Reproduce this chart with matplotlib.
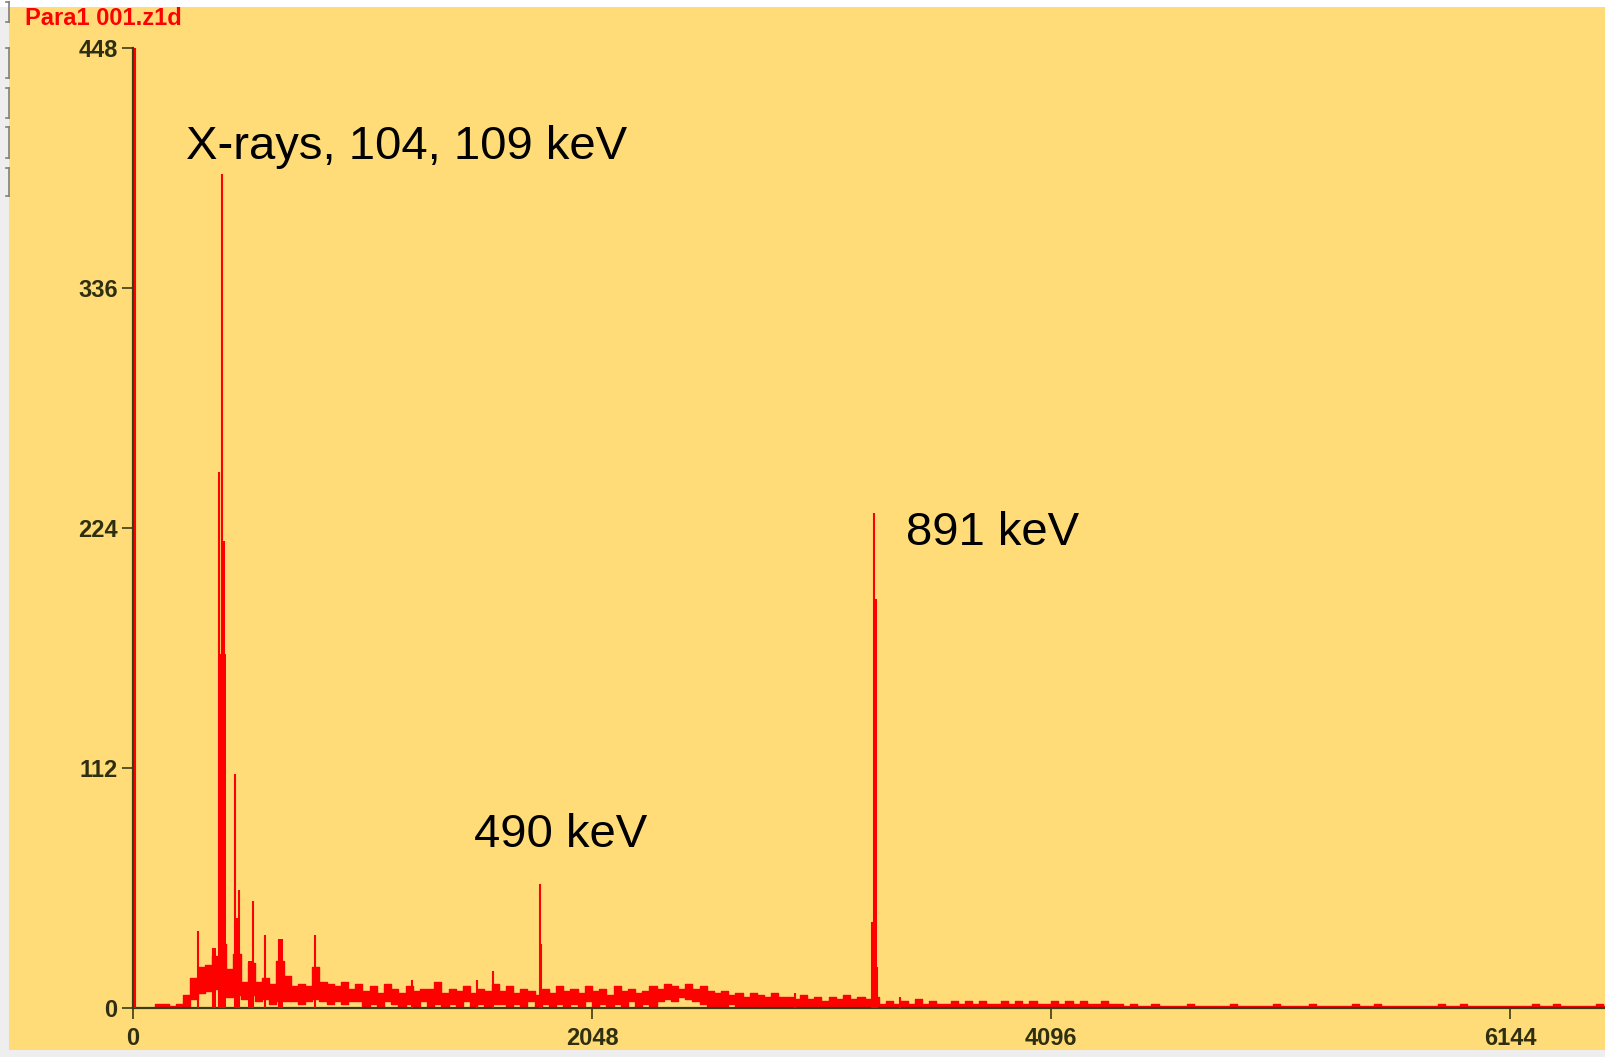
import matplotlib
matplotlib.use("Agg")
import matplotlib.pyplot as plt
import numpy as np
from matplotlib.patches import Rectangle
from matplotlib.lines import Line2D

# ---------------- data ----------------
title_text = "Para1 001.z1d"
x_ticks = [0, 2048, 4096, 6144]
y_ticks = [0, 112, 224, 336, 448]

bin_width = 32  # channels per background bin
# upper / lower envelope of the noisy background, per 32-channel bin
bg_hi = [0, 0, 0, 2, 2, 1, 2,
         6, 14, 19, 20, 24,
         30,
         18, 25, 12, 21, 12, 14, 11, 22,
         15, 10, 11, 10, 19, 12, 11, 10, 12, 9,
         11, 8, 10, 7, 11, 9, 7, 10, 8, 9,
         9, 12, 7, 9, 8, 10, 7, 9, 8, 11,
         8, 10, 7, 9, 8, 6, 9, 7, 10, 8,
         9, 7, 10, 8, 9, 6, 10, 8, 9, 7,
         8, 10, 9, 11, 10, 9, 11, 9, 10, 8,
         7, 8, 6, 7, 5, 7, 6, 5, 7, 5,
         5, 4, 6, 4, 5, 3, 5, 4, 6, 4,
         5, 4, 5, 2, 3, 2, 3, 2, 4, 2,
         3, 2, 2, 3, 2, 3, 2, 3, 2, 2,
         3, 2, 3, 2, 3, 2, 2, 3, 2, 3,
         2, 3, 2, 2, 3, 2, 2, 1, 2, 1,
         1, 2, 1, 1, 1, 1, 2, 1, 1, 1,
         1, 1, 2, 1, 1, 1, 1, 1, 2, 1,
         1, 1, 1, 2, 1, 1, 1, 1, 1, 2,
         1, 1, 2, 1, 1, 1, 1, 1, 1, 1,
         1, 2, 1, 1, 2, 1, 1, 1, 1, 1,
         1, 1, 1, 1, 2, 1, 1, 2, 1, 1,
         1, 1, 1, 2, 1]
bg_lo = [0, 0, 0, 0, 0, 0, 0,
         1, 4, 7, 8, 9,
         10,
         5, 6, 4, 6, 3, 4, 2, 3,
         3, 3, 2, 3, 4, 3, 2, 3, 2, 3,
         3, 1, 2, 0, 3, 2, 0, 2, 1, 3,
         1, 2, 0, 2, 1, 3, 0, 2, 1, 2,
         2, 0, 2, 1, 3, 0, 2, 1, 2, 0,
         2, 1, 3, 0, 2, 1, 2, 0, 3, 1,
         2, 1, 3, 4, 3, 5, 4, 3, 2, 1,
         1, 0, 2, 0, 1, 0, 1, 0, 1, 0,
         0, 1, 0, 0, 1, 0, 0, 1, 0, 0,
         0, 1] + [0] * 103

# narrow spikes: channel, counts
spike_ch = [8, 291, 357, 384, 397, 407, 455, 472, 535, 587, 650, 662, 810,
            1247, 1533, 1607, 1818, 1822, 2955, 3298, 3306, 3313, 3320, 3421]
spike_cnt = [448, 36, 28, 250, 389, 218, 109, 55, 50, 34, 32, 32, 34,
             13, 13, 17, 58, 30, 7, 40, 231, 191, 19, 5]

# filled blocks: start channel, end channel, counts
block_start = [380, 450, 512, 648, 357, 3300]
block_end = [413, 475, 535, 668, 370, 3316]
block_cnt = [165, 42, 22, 32, 28, 40]

labels = ["X-rays, 104, 109 keV", "490 keV", "891 keV"]
label_ch = [236, 1522, 3451]
label_cnt = [396, 75, 216]

# ---------------- drawing ----------------
W, H = 1606, 1057
fig = plt.figure(figsize=(W / 100, H / 100), dpi=100, facecolor="#EEEEEE")

yellow = "#FFDC78"
fig.add_artist(Rectangle((9 / W, 7 / H), (W - 9) / W, (1050 - 7) / H,
                         transform=fig.transFigure, facecolor=yellow,
                         edgecolor="none", zorder=0))
fig.add_artist(Rectangle((0, 1050 / H), 1, 7 / H, transform=fig.transFigure,
                         facecolor="white", edgecolor="none", zorder=0))

# little bracket marks on the left edge
for (ya, yb) in [(2, 22), (48, 78), (88, 118), (127, 158), (168, 196)]:
    for seg in [([9, 9], [ya, yb]), ([6, 9], [ya, ya]), ([6, 9], [yb, yb])]:
        fig.add_artist(Line2D(np.array(seg[0]) / W, 1 - np.array(seg[1]) / H,
                              transform=fig.transFigure, color="#808080", lw=1.2))

olive = "#3C3C14"
left_px, top_px, bottom_px = 133, 48.1, 1007.8
ax = fig.add_axes([left_px / W, (H - bottom_px) / H, (W - left_px) / W,
                   (bottom_px - top_px) / H])
ax.set_facecolor("none")
ax.set_xlim(0, (W - left_px) / 459 * 2048)
ax.set_ylim(0, 448)

red = "#FF0000"
edges = np.arange(len(bg_hi) + 1) * bin_width
hi = np.array(bg_hi + [bg_hi[-1]], dtype=float)
lo = np.array(bg_lo + [bg_lo[-1]], dtype=float)
ax.fill_between(edges, lo, hi, step="post", color=red, lw=0, zorder=2)
ax.step(edges, hi, where="post", color=red, lw=1.0, zorder=2)
ax.step(edges, lo, where="post", color=red, lw=1.0, zorder=2)
ax.plot([0, edges[-1]], [0, 0], color=red, lw=1.0, zorder=2)

ax.bar(block_start, block_cnt, width=np.array(block_end) - np.array(block_start),
       align="edge", color=red, lw=0, zorder=3)
ax.vlines(spike_ch, 0, spike_cnt, color=red, lw=1.5, zorder=3)

for t, cx, cy in zip(labels, label_ch, label_cnt):
    ax.text(cx, cy, t, fontsize=34, family="Liberation Sans", color="black",
            ha="left", va="baseline", zorder=4)

for s in ["top", "right"]:
    ax.spines[s].set_visible(False)
for s in ["left", "bottom"]:
    ax.spines[s].set_color(olive)
    ax.spines[s].set_linewidth(1.6)
ax.spines["left"].set_zorder(1)

ax.set_xticks(x_ticks)
ax.set_yticks(y_ticks)
ax.set_xticklabels([str(v) for v in x_ticks])
ax.set_yticklabels([str(v) for v in y_ticks])
ax.tick_params(axis="both", direction="out", length=8, width=1.2, color=olive,
               labelcolor="#2E2E10", labelsize=17)
ax.tick_params(axis="y", pad=3)
ax.tick_params(axis="x", pad=6)
for lab in ax.get_xticklabels() + ax.get_yticklabels():
    lab.set_fontfamily("Liberation Sans")
    lab.set_fontweight("bold")

fig.text(25 / W, 1 - 25 / H, title_text, color=red, fontsize=17,
         fontweight="bold", family="Liberation Sans", ha="left", va="baseline")

fig.savefig("out.png", dpi=100, facecolor=fig.get_facecolor())
